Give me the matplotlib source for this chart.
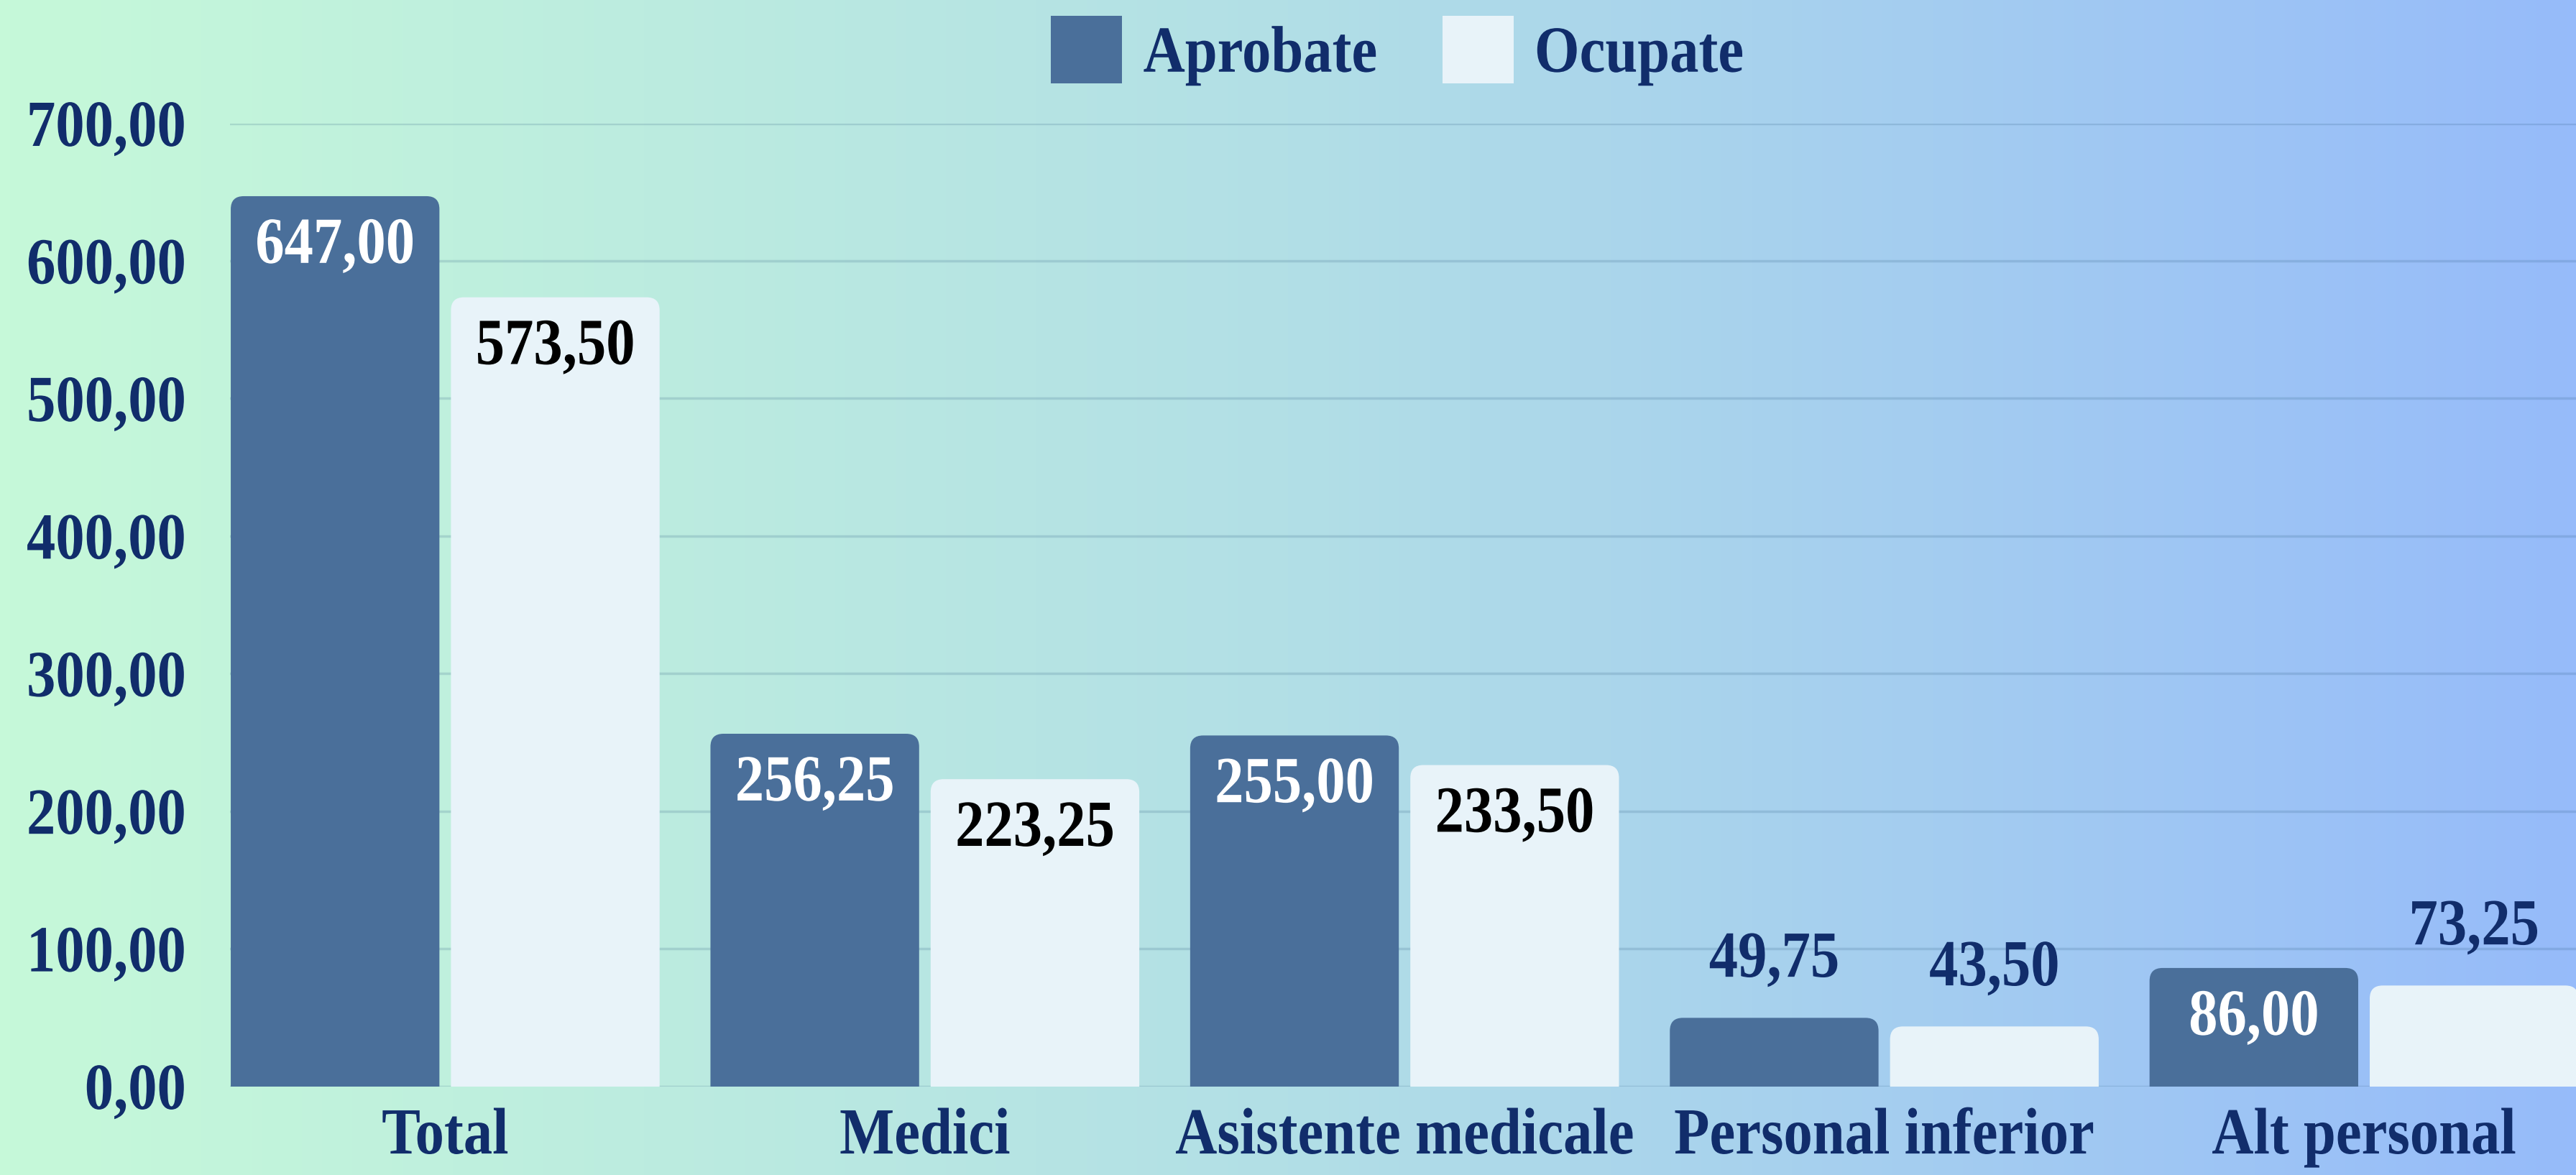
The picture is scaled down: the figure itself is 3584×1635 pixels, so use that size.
import numpy as np
import matplotlib.pyplot as plt
from matplotlib.patches import FancyBboxPatch
from matplotlib.colors import LinearSegmentedColormap
from matplotlib.transforms import Affine2D
from matplotlib import patheffects

# Data
categories = ["Total", "Medici", "Asistente medicale", "Personal inferior", "Alt personal"]
aprobate = [647.00, 256.25, 255.00, 49.75, 86.00]
ocupate = [573.50, 223.25, 233.50, 43.50, 73.25]
yticks = [0, 100, 200, 300, 400, 500, 600, 700]

dark = "#4a6f9a"
light = "#e8f3f9"
navy = "#112d6b"
FS = 66

plt.rcParams["font.family"] = ["Liberation Serif", "DejaVu Serif"]
plt.rcParams["font.weight"] = "bold"


class Condense(patheffects.AbstractPathEffect):
    # squeeze text horizontally, the reference font is a narrow one
    def __init__(self, artist, sx=0.88):
        super().__init__()
        self.artist = artist
        self.sx = sx

    def draw_path(self, renderer, gc, tpath, affine, rgbFace=None):
        bb = self.artist.get_window_extent(renderer)
        ha = self.artist.get_horizontalalignment()
        x0 = {"left": bb.x0, "center": (bb.x0 + bb.x1) / 2, "right": bb.x1}[ha]
        affine = affine + Affine2D().translate(-x0, 0).scale(self.sx, 1).translate(x0, 0)
        renderer.draw_path(gc, tpath, affine, rgbFace)


def condense(t):
    t.set_path_effects([Condense(t)])


fig = plt.figure(figsize=(35.84, 16.35), dpi=100)

# gradient background
bg = fig.add_axes([0, 0, 1, 1], zorder=-10)
grad = LinearSegmentedColormap.from_list("bg", ["#c6f9d9", "#b2dfe6", "#96bbfa"])
bg.imshow(np.linspace(0, 1, 512).reshape(1, -1), cmap=grad, aspect="auto", extent=[0, 1, 0, 1])
bg.axis("off")

ax = fig.add_axes([0.0893, 0.0755, 0.9107, 0.8196])
ax.patch.set_alpha(0)

x = np.arange(len(categories))
w = 0.435
gap = 0.024
b1 = ax.bar(x - (w + gap) / 2, aprobate, w, color=dark, zorder=3)
b2 = ax.bar(x + (w + gap) / 2, ocupate, w, color=light, zorder=3)

ax.set_xlim(-0.4485, 4.442)
ax.set_ylim(0, 700)

# swap bars for ones with rounded top corners
rx = 0.027
ry = 9.4
for bars in (b1, b2):
    for r in bars:
        r.set_visible(False)
        p = FancyBboxPatch((r.get_x(), -ry), r.get_width(), r.get_height() + ry,
                           boxstyle=f"round,pad=0,rounding_size={rx}",
                           mutation_aspect=ry / rx, facecolor=r.get_facecolor(),
                           edgecolor="none", zorder=3)
        ax.add_patch(p)


def fmt(v):
    return f"{v:.2f}".replace(".", ",")


for bars, vals, incol in ((b1, aprobate, "white"), (b2, ocupate, "black")):
    for r, v in zip(bars, vals):
        cx = r.get_x() + r.get_width() / 2
        if v > 80:
            t = ax.annotate(fmt(v), (cx, v), xytext=(0, -51), textcoords="offset points",
                            ha="center", va="center", fontsize=FS, color=incol,
                            fontweight="bold", zorder=5)
        else:
            t = ax.annotate(fmt(v), (cx, v), xytext=(0, 57), textcoords="offset points",
                            ha="center", va="center", fontsize=FS, color=navy,
                            fontweight="bold", zorder=5)
        condense(t)

ax.set_yticks(yticks)
ax.set_yticklabels([fmt(t) for t in yticks])
ax.set_xticks(x)
ax.set_xticklabels(categories)
ax.tick_params(axis="y", length=0, pad=44, labelsize=FS, labelcolor=navy)
ax.tick_params(axis="x", length=0, pad=22, labelsize=FS, labelcolor=navy)
for t in ax.get_xticklabels() + ax.get_yticklabels():
    condense(t)
ax.grid(axis="y", color="#2c5a80", alpha=0.18, linewidth=2.5, zorder=0)
for s in ax.spines.values():
    s.set_visible(False)

leg = fig.legend([b1, b2], ["Aprobate", "Ocupate"], loc="center", bbox_to_anchor=(0.548, 0.957),
                 ncol=2, frameon=False, fontsize=FS, handlelength=1.08, handleheight=1.2,
                 handletextpad=0.32, columnspacing=0.5)
for t in leg.get_texts():
    t.set_color(navy)
    condense(t)
for h in leg.legend_handles:
    h.set_visible(True)

fig.savefig("out.png", dpi=100)
